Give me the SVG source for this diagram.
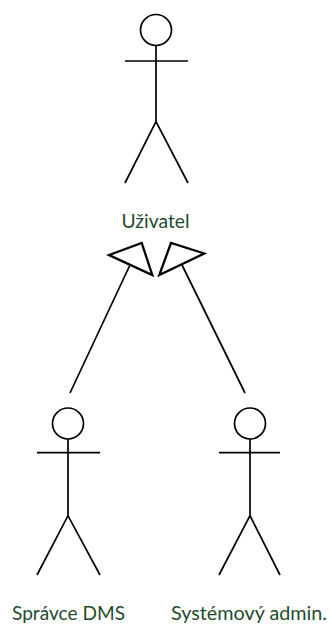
<svg xmlns="http://www.w3.org/2000/svg" width="331" height="624" viewBox="0 0 331 624">
<style>
.s{fill:none;stroke:#000;stroke-width:1.7}
.a{fill:#fff;stroke:#000;stroke-width:2.300;stroke-linejoin:miter}
.t{font-family:Lato,"Open Sans",sans-serif;font-size:19.500px;fill:#1e4d2b}
</style>
<rect width="331" height="624" fill="#fff"/>
<g id="connectors">
<path class="s" d="M129.500 266L70 393"/>
<path class="s" d="M182 265L245 393"/>
<polygon class="a" points="109,255 141.700,243 152.300,275"/>
<polygon class="a" points="204.300,253.500 171,243 159.300,275"/>
</g>
<g id="uzivatel">
<circle class="s" cx="156" cy="30" r="15.500"/>
<path class="s" d="M156 45.500V121.500M125 61H188M125 183L156 121.500L188 183"/>
<text class="t" x="121.500" y="228" textLength="68" lengthAdjust="spacingAndGlyphs">Uživatel</text>
</g>
<g id="spravce">
<circle class="s" cx="68" cy="423.500" r="15.500"/>
<path class="s" d="M68 439V515.700M37 452.700H100M37 575L68 515.700L100 575"/>
<text class="t" x="12" y="620" textLength="113" lengthAdjust="spacingAndGlyphs">Správce DMS</text>
</g>
<g id="admin">
<circle class="s" cx="250" cy="423.500" r="15.500"/>
<path class="s" d="M250 439V515.700M219 452.700H280M219 575L250 515.700L280 575"/>
<text class="t" x="171" y="620" textLength="156" lengthAdjust="spacingAndGlyphs">Systémový admin.</text>
</g>
</svg>
